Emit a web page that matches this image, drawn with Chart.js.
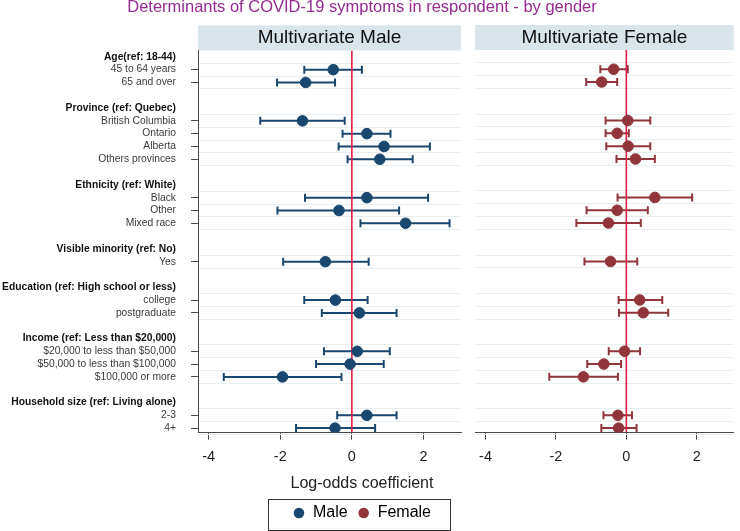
<!DOCTYPE html>
<html>
<head>
<meta charset="utf-8">
<script src="https://cdn.jsdelivr.net/npm/chart.js@4.4.0/dist/chart.umd.min.js"></script>
<style>
  body { margin: 0; background: #fff; }
  #wrap { position: relative; width: 740px; height: 531px; overflow: hidden; }
  #wrap canvas { position: absolute; top: 0; left: 0; }
</style>
</head>
<body>
<div id="wrap">
  <canvas id="male" width="724" height="531"></canvas>
  <canvas id="female" width="740" height="531"></canvas>
</div>
<script>
// rows of the forest plot, top to bottom ('' = blank spacer row)
const ROW_LABELS = [
  'Age(ref: 18-44)', '45 to 64 years', '65 and over', '',
  'Province (ref: Quebec)', 'British Columbia', 'Ontario', 'Alberta', 'Others provinces', '',
  'Ethnicity (ref: White)', 'Black', 'Other', 'Mixed race', '',
  'Visible minority (ref: No)', 'Yes', '',
  'Education (ref: High school or less)', 'college', 'postgraduate', '',
  'Income (ref: Less than $20,000)', '$20,000 to less than $50,000', '$50,000 to less than $100,000', '$100,000 or more', '',
  'Household size (ref: Living alone)', '2-3', '4+'
];
const HEADER_ROWS = [0, 4, 10, 15, 18, 22, 27];

// log-odds coefficients and 95% CI, one value per non-header row
const MALE_COEF = [-0.52, -1.29, -1.38, 0.42, 0.90, 0.78, 0.42, -0.36, 1.50, -0.74, -0.46, 0.21, 0.15, -0.05, -1.94, 0.42, -0.47];
const MALE_LO   = [-1.33, -2.09, -2.56, -0.26, -0.37, -0.12, -1.31, -2.08, 0.24, -1.92, -1.33, -0.84, -0.78, -1.00, -3.58, -0.41, -1.56];
const MALE_HI   = [0.28, -0.47, -0.20, 1.08, 2.18, 1.70, 2.13, 1.32, 2.73, 0.47, 0.44, 1.25, 1.06, 0.89, -0.29, 1.25, 0.65];

const FEMALE_COEF = [-0.36, -0.70, 0.04, -0.26, 0.05, 0.26, 0.81, -0.26, -0.51, -0.45, 0.38, 0.48, -0.05, -0.64, -1.22, -0.24, -0.22];
const FEMALE_LO   = [-0.74, -1.14, -0.59, -0.59, -0.57, -0.28, -0.25, -1.13, -1.42, -1.19, -0.22, -0.21, -0.50, -1.11, -2.19, -0.65, -0.71];
const FEMALE_HI   = [0.04, -0.26, 0.68, 0.07, 0.68, 0.81, 1.87, 0.61, 0.41, 0.31, 1.02, 1.19, 0.39, -0.15, -0.24, 0.16, 0.29];

const X_TICKS = [-4, -2, 0, 2];
const X_MIN = -4.3, X_MAX = 3.05;
const Y_MIN = -0.5, Y_MAX = 29.35;
const ZERO_LINE = 0;

const FONT = "'Liberation Sans', Arial, sans-serif";
const MALE_COLOR = '#1a476f';
const FEMALE_COLOR = '#90353b';
const RED = '#dc1e46';
const AXIS = '#4a4a4a';
const GRID = '#e6eef2';
const HEADER_BG = '#d9e5eb';
const PURPLE = '#952a92';

const DATA_ROWS = ROW_LABELS.map((l, i) => i).filter(i => ROW_LABELS[i] && !HEADER_ROWS.includes(i));
const LABEL_ROWS = ROW_LABELS.map((l, i) => i).filter(i => ROW_LABELS[i]);
const GRID_ROWS = [...new Set(DATA_ROWS.flatMap(r => [r - 0.5, r + 0.5]))];

function pointData(coef) {
  return DATA_ROWS.map((r, i) => ({ x: coef[i], y: r }));
}
function ciData(lo, hi) {
  const out = [];
  DATA_ROWS.forEach((r, i) => {
    out.push({ x: lo[i], y: r }, { x: hi[i], y: r }, { x: null, y: null });
  });
  return out;
}

function datasets(label, coef, lo, hi, color) {
  return [
    { label, data: pointData(coef), backgroundColor: color, borderColor: color, pointRadius: 5.3, order: 0 },
    { label: 'zero', data: [{ x: ZERO_LINE, y: Y_MIN }, { x: ZERO_LINE, y: Y_MAX }], showLine: true,
      borderColor: RED, borderWidth: 1.6, pointRadius: 0, order: 1 },
    { label: 'ci', data: ciData(lo, hi), showLine: true, spanGaps: false, borderColor: color, borderWidth: 2,
      pointStyle: 'line', pointRotation: 90, pointRadius: 4, pointBorderWidth: 2, pointBorderColor: color, order: 2 }
  ];
}

function xAxis() {
  return {
    type: 'linear', position: 'bottom', min: X_MIN, max: X_MAX,
    afterBuildTicks: s => { s.ticks = X_TICKS.map(v => ({ value: v })); },
    grid: { drawOnChartArea: false, tickLength: 7, tickColor: AXIS },
    border: { color: AXIS },
    ticks: { autoSkip: false, maxRotation: 0, padding: 9, color: '#222', font: { family: FONT, size: 14.5 } }
  };
}

function gridAxis() {
  return {
    type: 'linear', position: 'left', reverse: true, min: Y_MIN, max: Y_MAX,
    afterBuildTicks: s => { s.ticks = GRID_ROWS.map(v => ({ value: v })); },
    grid: { color: GRID, lineWidth: 1, drawTicks: false },
    border: { display: false },
    ticks: { display: false }
  };
}

// light blue-gray band behind the panel titles
const headerBox = {
  id: 'headerBox',
  beforeDraw(chart, args, opts) {
    const { ctx, chartArea } = chart;
    ctx.save();
    ctx.fillStyle = opts.color;
    ctx.fillRect(chartArea.left, chartArea.top - opts.height, chartArea.right - chartArea.left, opts.height);
    ctx.restore();
  }
};

// frame around the legend
const legendFrame = {
  id: 'legendFrame',
  afterDraw(chart, args, opts) {
    const boxes = chart.legend && chart.legend.legendHitBoxes;
    if (!boxes || !boxes.length) return;
    const left = Math.min(...boxes.map(b => b.left)) - opts.padLeft;
    const right = Math.max(...boxes.map(b => b.left + b.width)) + opts.padRight;
    const top = Math.min(...boxes.map(b => b.top)) - opts.padTop;
    const bottom = Math.max(...boxes.map(b => b.top + b.height)) + opts.padBottom;
    const ctx = chart.ctx;
    ctx.save();
    ctx.strokeStyle = opts.color;
    ctx.lineWidth = 1;
    ctx.strokeRect(Math.round(left) + 0.5, Math.round(top) + 0.5, Math.round(right - left), Math.round(bottom - top));
    ctx.restore();
  }
};

const isHeader = ctx => ctx.tick && HEADER_ROWS.includes(ctx.tick.value);

const male = new Chart(document.getElementById('male'), {
  type: 'scatter',
  data: { datasets: datasets('Male', MALE_COEF, MALE_LO, MALE_HI, MALE_COLOR) },
  plugins: [headerBox, legendFrame],
  options: {
    responsive: false, animation: false, events: [],
    layout: { padding: 0 },
    scales: {
      x: xAxis(),
      y: {
        type: 'linear', position: 'left', reverse: true, min: Y_MIN, max: Y_MAX,
        afterBuildTicks: s => { s.ticks = LABEL_ROWS.map(v => ({ value: v })); },
        afterFit: s => { s.width = 198; },
        grid: {
          drawOnChartArea: false, tickLength: 7,
          tickColor: ctx => (ctx.tick && DATA_ROWS.includes(ctx.tick.value)) ? AXIS : 'rgba(0,0,0,0)'
        },
        border: { color: AXIS },
        ticks: {
          autoSkip: false, padding: 15,
          callback: v => ROW_LABELS[v],
          color: ctx => isHeader(ctx) ? '#111' : '#3a3a3a',
          font: ctx => ({ family: FONT, size: 10.3, weight: isHeader(ctx) ? 'bold' : 'normal' })
        }
      },
      yg: gridAxis(),
      pad: {
        type: 'linear', position: 'right', display: true,
        afterFit: s => { s.width = 263; },
        grid: { display: false, drawTicks: false }, border: { display: false }, ticks: { display: false }
      },
      xlab: {
        type: 'linear', position: 'bottom', fullSize: true, weight: 1,
        grid: { display: false, drawTicks: false }, border: { display: false }, ticks: { display: false },
        title: { display: true, text: 'Log-odds coefficient', color: '#222',
                 font: { family: FONT, size: 16, lineHeight: 1 }, padding: { top: 1, bottom: 3 } }
      }
    },
    plugins: {
      title: {
        display: true, text: 'Determinants of COVID-19 symptoms in respondent - by gender', color: PURPLE,
        font: { family: FONT, size: 16.5, weight: 'normal', lineHeight: 0.875 }, padding: { top: 0, bottom: 11 }
      },
      subtitle: {
        display: true, text: 'Multivariate Male', color: '#111', fullSize: false,
        font: { family: FONT, size: 19, lineHeight: 1 }, padding: { top: 3, bottom: 3 }
      },
      headerBox: { color: HEADER_BG, height: 25 },
      legendFrame: { color: '#333', padLeft: 25, padRight: 19, padTop: 6, padBottom: 9 },
      legend: {
        display: true, position: 'bottom',
        labels: {
          usePointStyle: true, boxHeight: 7.5, boxWidth: 12, padding: 10, color: '#222',
          font: { family: FONT, size: 16 },
          generateLabels: () => [
            { text: 'Male', fillStyle: MALE_COLOR, strokeStyle: MALE_COLOR, lineWidth: 0, pointStyle: 'circle', hidden: false, datasetIndex: 0 },
            { text: 'Female', fillStyle: FEMALE_COLOR, strokeStyle: FEMALE_COLOR, lineWidth: 0, pointStyle: 'circle', hidden: false, datasetIndex: 0 }
          ]
        }
      },
      tooltip: { enabled: false }
    }
  }
});

const bottomStack = male.height - male.chartArea.bottom;

const female = new Chart(document.getElementById('female'), {
  type: 'scatter',
  data: { datasets: datasets('Female', FEMALE_COEF, FEMALE_LO, FEMALE_HI, FEMALE_COLOR) },
  plugins: [headerBox],
  options: {
    responsive: false, animation: false, events: [],
    layout: { padding: { top: 25 } },
    scales: {
      x: Object.assign(xAxis(), { afterFit: s => { s.height = bottomStack; } }),
      y: Object.assign(gridAxis(), { afterFit: s => { s.width = 475; } })
    },
    plugins: {
      title: { display: false },
      subtitle: {
        display: true, text: 'Multivariate Female', color: '#111', fullSize: false,
        font: { family: FONT, size: 19, lineHeight: 1 }, padding: { top: 3, bottom: 3 }
      },
      headerBox: { color: HEADER_BG, height: 25 },
      legend: { display: false },
      tooltip: { enabled: false }
    }
  }
});
</script>
</body>
</html>
